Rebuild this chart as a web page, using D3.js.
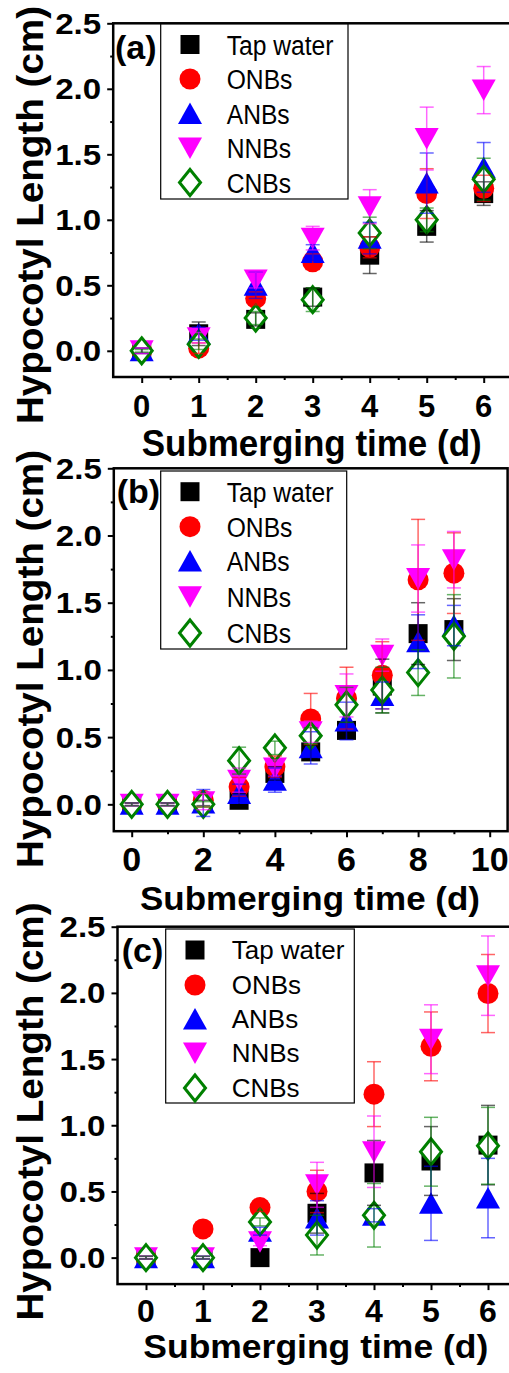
<!DOCTYPE html>
<html><head><meta charset="utf-8">
<script src="https://cdn.jsdelivr.net/npm/d3@7"></script>
<style>body{margin:0;background:#fff}svg{display:block}text{font-family:"Liberation Sans",Arial,sans-serif}</style>
</head><body><svg id="chart" width="509" height="1373"></svg>
<script>
// ---------- data ----------
const seriesNames = ["Tap water","ONBs","ANBs","NNBs","CNBs"];
const seriesColors = ["#000000","#ff0000","#0000ff","#ff00ff","#008000"];
const seriesShapes = ["square","circle","triangleUp","triangleDown","diamond"];
const yTickValues = [0,0.5,1,1.5,2,2.5];
const yTickLabels = ["0.0","0.5","1.0","1.5","2.0","2.5"];
const yMinorValues = [0.25,0.75,1.25,1.75,2.25];

// panel (a)
const daysA = [0,1,2,3,4,5,6];
const xTicksA = [0,1,2,3,4,5,6];
const xMinorA = [0.5,1.5,2.5,3.5,4.5,5.5];
const aTap  = [0,0.13,0.24,0.41,0.73,0.95,1.20];
const aONB  = [0,0.02,0.40,0.68,0.79,1.20,1.24];
const aANB  = [0,0.13,0.50,0.75,0.86,1.28,1.40];
const aNNB  = [0,0.10,0.54,0.86,1.10,1.62,1.99];
const aCNB  = [0,0.05,0.25,0.39,0.90,1.00,1.31];
const aTapErr = [0.02,0.09,0.05,0.07,0.14,0.12,0.09];
const aONBErr = [0.02,0.04,0.05,0.06,0.08,0.19,0.10];
const aANBErr = [0.02,0.05,0.10,0.06,0.12,0.23,0.19];
const aNNBErr = [0.02,0.04,0.06,0.09,0.13,0.24,0.18];
const aCNBErr = [0.01,0.04,0.05,0.09,0.12,0.09,0.16];

// panel (b)
const daysB = [0,1,2,3,4,5,6,7,8,9];
const xTicksB = [0,2,4,6,8,10];
const xMinorB = [1,3,5,7,9];
const bTap  = [0,0,0.01,0.03,0.23,0.39,0.55,0.88,1.27,1.30];
const bONB  = [0,0,0.03,0.13,0.28,0.635,0.79,0.96,1.67,1.72];
const bANB  = [0,0,0.01,0.08,0.18,0.42,0.62,0.81,1.21,1.33];
const bNNB  = [0,0,0.02,0.18,0.27,0.54,0.81,1.11,1.68,1.82];
const bCNB  = [0,0,0,0.325,0.42,0.51,0.74,0.85,0.98,1.25];
const bTapErr = [0.01,0.01,0.02,0.05,0.05,0.05,0.06,0.20,0.23,0.23];
const bONBErr = [0.01,0.01,0.05,0.07,0.08,0.19,0.23,0.25,0.45,0.30];
const bANBErr = [0.01,0.01,0.10,0.07,0.09,0.12,0.14,0.10,0.20,0.15];
const bNNBErr = [0.01,0.01,0.06,0.09,0.06,0.08,0.16,0.12,0.25,0.21];
const bCNBErr = [0.01,0.01,0.02,0.10,0.05,0.06,0.13,0.17,0.17,0.31];

// panel (c)
const daysC = [0,1,2,3,4,5,6];
const xTicksC = [0,1,2,3,4,5,6];
const xMinorC = [0.5,1.5,2.5,3.5,4.5,5.5];
const cTap  = [0,0,0,0.335,0.64,0.73,0.85];
const cONB  = [0,0.217,0.378,0.50,1.235,1.596,1.995];
const cANB  = [0,0,0.20,0.30,0.32,0.41,0.45];
const cNNB  = [0,0,0.12,0.55,0.80,1.65,2.13];
const cCNB  = [0,0,0.27,0.17,0.32,0.80,0.845];
const cTapErr = [0.01,0.01,0.02,0.15,0.245,0.26,0.30];
const cONBErr = [0.01,0.02,0.03,0.16,0.245,0.26,0.295];
const cANBErr = [0.01,0.01,0.03,0.13,0.05,0.28,0.30];
const cNNBErr = [0.01,0.01,0.03,0.17,0.27,0.26,0.30];
const cCNBErr = [0.01,0.01,0.03,0.15,0.24,0.26,0.29];

// ---------- layout ----------
const svg = d3.select("#chart");
const panels = [
  {tag:"(a)", days:daysA, xTicks:xTicksA, xMinor:xMinorA, xDomain:[-0.5,6.5],
   vals:[aTap,aONB,aANB,aNNB,aCNB], errs:[aTapErr,aONBErr,aANBErr,aNNBErr,aCNBErr],
   left:113.2, right:512.2, top:23.3, bottom:377,
   xLabFs:31, xLabBase:417.3, titleFs:36, titleBase:455.7, titleCx:311.7, titleLen:340,
   yTitleCy:215, tagX:115, tagBase:59,
   leg:{x0:160.7,x1:348,y0:24,y1:199, symX:190, textX:226.7, rows:[44.5,79,113.5,148,182.5], fs:28, sx:0.88}},
  {tag:"(b)", days:daysB, xTicks:xTicksB, xMinor:xMinorB, xDomain:[-0.5,10.5],
   vals:[bTap,bONB,bANB,bNNB,bCNB], errs:[bTapErr,bONBErr,bANBErr,bNNBErr,bCNBErr],
   left:113.8, right:507.6, top:468.3, bottom:831.2,
   xLabFs:34, xLabBase:871, titleFs:34, titleBase:909.5, titleCx:310, titleLen:340,
   yTitleCy:659, tagX:116.7, tagBase:503.3,
   leg:{x0:160.7,x1:346.7,y0:471,y1:649, symX:190, textX:226.7, rows:[491.7,526.7,561,596.7,633], fs:28, sx:0.88}},
  {tag:"(c)", days:daysC, xTicks:xTicksC, xMinor:xMinorC, xDomain:[-0.5,6.5],
   vals:[cTap,cONB,cANB,cNNB,cCNB], errs:[cTapErr,cONBErr,cANBErr,cNNBErr,cCNBErr],
   left:117.5, right:516.5, top:926.7, bottom:1284.1,
   xLabFs:32, xLabBase:1321.5, titleFs:33, titleBase:1357.5, titleCx:315.8, titleLen:345,
   yTitleCy:1111.5, tagX:121.7, tagBase:961.7,
   leg:{x0:165.7,x1:354.3,y0:929,y1:1103, symX:195, textX:231.7, rows:[950,985,1019,1053,1088], fs:26, sx:1}}
];

function shapePath(shape){
  switch(shape){
    case "square": return "M-9.5,-9.5H9.5V9.5H-9.5Z";
    case "circle": return d3.arc()({innerRadius:0,outerRadius:10.5,startAngle:0,endAngle:2*Math.PI});
    case "triangleUp": return "M0,-11L12,10.5H-12Z";
    case "triangleDown": return "M0,11L12,-10.5H-12Z";
    case "diamond": return "M0,-13L10.5,0L0,13L-10.5,0Z";
  }
}
function styleMarker(sel, s){
  if(seriesShapes[s]==="diamond"){
    sel.attr("fill","#fff").attr("stroke",seriesColors[s]).attr("stroke-width",3);
  } else {
    sel.attr("fill",seriesColors[s]).attr("stroke","none");
  }
}

panels.forEach(p=>{
  const g = svg.append("g");
  const x = d3.scaleLinear().domain(p.xDomain).range([p.left,p.right]);
  const y = d3.scaleLinear().domain([-0.2,2.5]).range([p.bottom,p.top]);

  // axis ticks
  const xMaj = g.append("g").attr("transform",`translate(0,${p.bottom})`)
    .call(d3.axisBottom(x).tickValues(p.xTicks).tickSize(6).tickFormat(""));
  const xMin = g.append("g").attr("transform",`translate(0,${p.bottom})`)
    .call(d3.axisBottom(x).tickValues(p.xMinor).tickSize(3).tickFormat(""));
  const yMaj = g.append("g").attr("transform",`translate(${p.left},0)`)
    .call(d3.axisLeft(y).tickValues(yTickValues).tickSize(6).tickFormat(""));
  const yMin = g.append("g").attr("transform",`translate(${p.left},0)`)
    .call(d3.axisLeft(y).tickValues(yMinorValues).tickSize(3).tickFormat(""));
  [xMaj,xMin,yMaj,yMin].forEach(a=>{
    a.select(".domain").remove();
    a.selectAll("line").attr("stroke","#000").attr("stroke-width",2);
  });

  // frame
  g.append("rect").attr("x",p.left).attr("y",p.top)
    .attr("width",p.right-p.left).attr("height",p.bottom-p.top)
    .attr("fill","none").attr("stroke","#000").attr("stroke-width",2.5);

  // x tick labels
  g.selectAll(null).data(p.xTicks).join("text")
    .attr("x",d=>x(d)).attr("y",p.xLabBase)
    .attr("text-anchor","middle").attr("font-weight","bold")
    .attr("font-size",p.xLabFs).text(d=>d);
  // y tick labels
  g.selectAll(null).data(yTickValues).join("text")
    .attr("x",p.left-12).attr("y",d=>y(d)+0.36*29)
    .attr("text-anchor","end").attr("font-weight","bold")
    .attr("font-size",29).attr("textLength",46).attr("lengthAdjust","spacingAndGlyphs")
    .text((d,i)=>yTickLabels[i]);

  // titles
  g.append("text").attr("x",p.titleCx).attr("y",p.titleBase)
    .attr("text-anchor","middle").attr("font-weight","bold").attr("font-size",p.titleFs)
    .attr("textLength",p.titleLen).attr("lengthAdjust","spacingAndGlyphs")
    .text("Submerging time (d)");
  g.append("text").attr("transform",`translate(43.3,${p.yTitleCy}) rotate(-90)`)
    .attr("text-anchor","middle").attr("font-weight","bold").attr("font-size",37)
    .attr("textLength",418).attr("lengthAdjust","spacingAndGlyphs")
    .text("Hypocotyl Length (cm)");
  g.append("text").attr("x",p.tagX).attr("y",p.tagBase)
    .attr("font-weight","bold").attr("font-size",34).text(p.tag);

  // markers
  p.vals.forEach((vals,s)=>{
    vals.forEach((v,i)=>{
      const m = g.append("path").attr("d",shapePath(seriesShapes[s]))
        .attr("transform",`translate(${x(p.days[i])},${y(v)})`);
      styleMarker(m,s);
    });
  });
  // error bars
  p.vals.forEach((vals,s)=>{
    vals.forEach((v,i)=>{
      const e = p.errs[s][i];
      const cx = x(p.days[i]);
      const eg = g.append("g").attr("stroke",seriesColors[s]).attr("stroke-opacity",0.6).attr("stroke-width",1.5);
      eg.append("line").attr("x1",cx).attr("x2",cx).attr("y1",y(v-e)).attr("y2",y(v+e));
      eg.append("line").attr("x1",cx-7).attr("x2",cx+7).attr("y1",y(v-e)).attr("y2",y(v-e));
      eg.append("line").attr("x1",cx-7).attr("x2",cx+7).attr("y1",y(v+e)).attr("y2",y(v+e));
    });
  });

  // legend
  const L = p.leg;
  g.append("rect").attr("x",L.x0).attr("y",L.y0).attr("width",L.x1-L.x0).attr("height",L.y1-L.y0)
    .attr("fill","#fff").attr("stroke","#000").attr("stroke-width",1.2);
  seriesNames.forEach((name,s)=>{
    const m = g.append("path").attr("d",shapePath(seriesShapes[s]))
      .attr("transform",`translate(${L.symX},${L.rows[s]})`);
    styleMarker(m,s);
    g.append("text").attr("transform",`translate(${L.textX},${L.rows[s]+0.36*L.fs}) scale(${L.sx},1)`)
      .attr("font-size",L.fs).text(name);
  });
});
</script></body></html>
